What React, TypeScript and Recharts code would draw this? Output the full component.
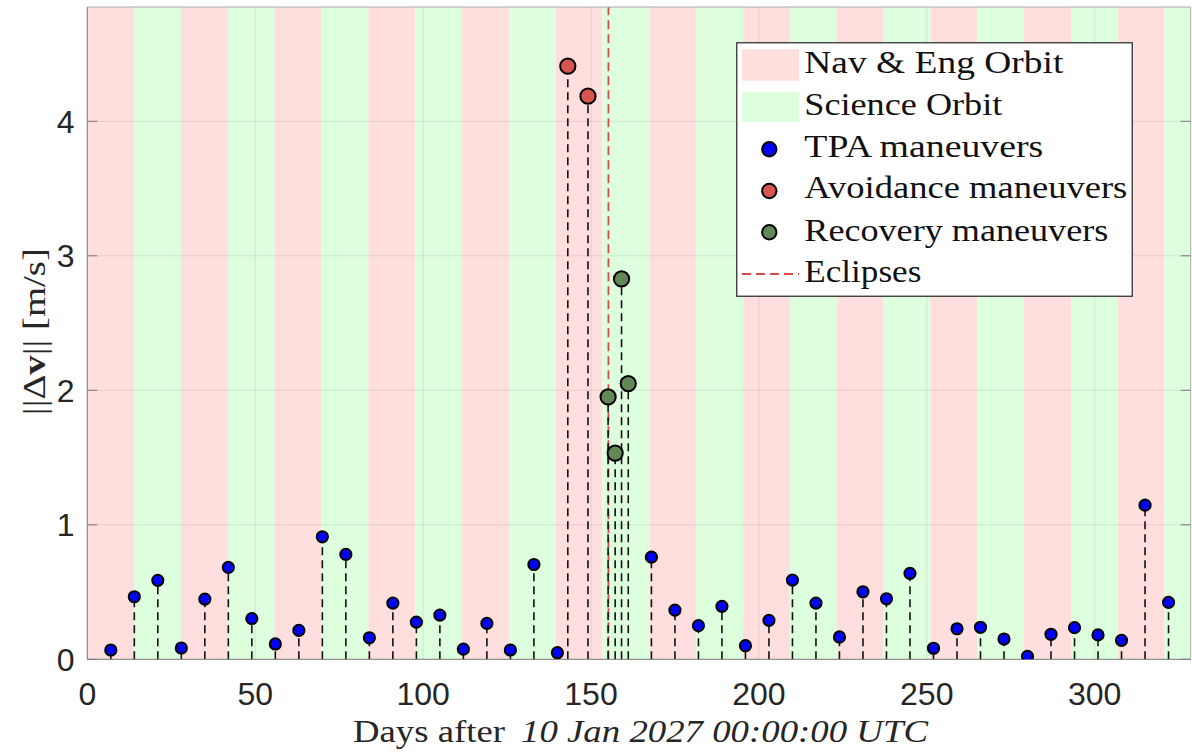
import React from 'react';
import { ComposedChart, XAxis, YAxis, Scatter, ReferenceArea, ReferenceLine, Legend } from 'recharts';

// Phase boundaries in days; phases alternate Nav & Eng / Science, starting with Nav & Eng
const phaseEdges = [
  0, 13.95, 27.9, 41.85, 55.8, 69.75, 83.7, 97.65, 111.6, 125.55, 139.5, 153.45, 167.4,
  181.35, 195.3, 209.25, 223.2, 237.15, 251.1, 265.05, 279, 292.95, 306.9, 320.85, 328.6,
];

// Trajectory-plan (TPA) maneuvers
const tpaDays = [
  7, 14, 21, 28, 35, 42, 49, 56, 63, 70, 77, 84, 91, 98, 105, 112, 119, 126, 133, 140,
  168, 175, 182, 189, 196, 203, 210, 217, 224, 231, 238, 245, 252, 259, 266, 273, 280,
  287, 294, 301, 308, 315, 322,
];
const tpaDv = [
  0.069, 0.465, 0.587, 0.084, 0.448, 0.683, 0.302, 0.114, 0.215, 0.911, 0.78, 0.16, 0.418,
  0.277, 0.329, 0.076, 0.267, 0.069, 0.705, 0.049, 0.76, 0.366, 0.25, 0.394, 0.101, 0.29,
  0.589, 0.418, 0.166, 0.502, 0.45, 0.639, 0.082, 0.227, 0.238, 0.151, 0.022, 0.186,
  0.235, 0.181, 0.141, 1.146, 0.423,
];

// Collision avoidance maneuvers
const avoidDays = [143.1, 149.1];
const avoidDv = [4.41, 4.187];

// Recovery maneuvers after the avoidance sequence
const recoveryDays = [155.1, 157.2, 159.1, 161.1];
const recoveryDv = [1.951, 1.533, 2.828, 2.05];

const eclipseDays = [155.2];

const xTicks = [0, 50, 100, 150, 200, 250, 300];
const yTicks = [0, 1, 2, 3, 4];
const X_MAX = 328.6;
const Y_MAX = 4.85;

const NAV_FILL = '#ffdede';
const SCI_FILL = '#deffde';
const TPA_FILL = '#0000ff';
const AVOID_FILL = '#d9534f';
const RECOVERY_FILL = '#628856';
const ECLIPSE_COLOR = '#e04848';
const SERIF = '"Liberation Serif", "Times New Roman", serif';
const SANS = '"Liberation Sans", Arial, sans-serif';

const toPoints = (days: number[], dv: number[]) => days.map((day, i) => ({ day, dv: dv[i] }));
const tpa = toPoints(tpaDays, tpaDv);
const avoidance = toPoints(avoidDays, avoidDv);
const recovery = toPoints(recoveryDays, recoveryDv);
const allPoints = [...tpa, ...avoidance, ...recovery];

const phases = phaseEdges.slice(0, -1).map((start, i) => ({
  x1: start,
  x2: phaseEdges[i + 1],
  fill: i % 2 === 0 ? NAV_FILL : SCI_FILL,
}));

const marker = (fill: string, r: number) => (props: any) => (
  <circle cx={props.cx} cy={props.cy} r={r} fill={fill} stroke="#000" strokeWidth={2} />
);

const legendRows = [
  { label: 'Nav & Eng Orbit', width: 259 },
  { label: 'Science Orbit', width: 198 },
  { label: 'TPA maneuvers', width: 239 },
  { label: 'Avoidance maneuvers', width: 323 },
  { label: 'Recovery maneuvers', width: 304 },
  { label: 'Eclipses', width: 117 },
];

function LegendBox() {
  const rowY = [30.7, 73, 114.7, 156.3, 198.7, 239.7];
  return (
    <svg width={397} height={255} style={{ display: 'block' }}>
      <rect x={0.75} y={0.75} width={395.5} height={253.5} fill="#fff" stroke="#333" strokeWidth={1.3} />
      <rect x={6} y={7.3} width={57} height={31.4} fill={NAV_FILL} />
      <rect x={6} y={49.7} width={57} height={30.3} fill={SCI_FILL} />
      <circle cx={33.3} cy={107.3} r={7.2} fill={TPA_FILL} stroke="#000" strokeWidth={2} />
      <circle cx={33.3} cy={149} r={7.2} fill={AVOID_FILL} stroke="#000" strokeWidth={2} />
      <circle cx={33.3} cy={190.3} r={7.2} fill={RECOVERY_FILL} stroke="#000" strokeWidth={2} />
      <line x1={6} x2={63} y1={232} y2={232} stroke={ECLIPSE_COLOR} strokeWidth={1.8} strokeDasharray="9 5" />
      {legendRows.map((row, i) => (
        <text
          key={row.label}
          x={68.3}
          y={rowY[i]}
          fontFamily={SERIF}
          fontSize={31}
          fill="#111"
          textLength={row.width}
          lengthAdjust="spacingAndGlyphs"
        >
          {row.label}
        </text>
      ))}
    </svg>
  );
}

const renderXTitle = (props: any) => {
  const { x, y, width } = props.viewBox;
  const cx = x + width / 2;
  const base = y + 82.7;
  return (
    <g>
      <text x={cx - 286} y={base} fontFamily={SERIF} fontSize={31} fill="#262626" textLength={152} lengthAdjust="spacingAndGlyphs">
        Days after
      </text>
      <text
        x={cx - 118}
        y={base}
        fontFamily={SERIF}
        fontSize={31}
        fontStyle="italic"
        fill="#262626"
        textLength={407}
        lengthAdjust="spacingAndGlyphs"
      >
        10 Jan 2027 00:00:00 UTC
      </text>
    </g>
  );
};

const renderYTitle = (props: any) => {
  const { y, height } = props.viewBox;
  const cy = y + height / 2 - 1.5;
  return (
    <text
      transform={`translate(45, ${cy}) rotate(-90)`}
      textAnchor="middle"
      fontFamily={SERIF}
      fontSize={31}
      fill="#262626"
      textLength={167}
      lengthAdjust="spacingAndGlyphs"
    >
      ||Δ<tspan fontWeight="bold">v</tspan>|| [m/s]
    </text>
  );
};

const tickFont = { fontFamily: SANS, fontSize: 32, fill: '#262626' };
const noLabel = () => '';

export default function App() {
  return (
    <div style={{ position: 'absolute', left: 0, top: 0, background: '#fff' }}>
      <ComposedChart width={1192} height={752} margin={{ top: 7, right: 1.3, left: 0, bottom: 32.7 }}>
        {phases.map((p) => (
          <ReferenceArea key={p.x1} x1={p.x1} x2={p.x2} fill={p.fill} fillOpacity={1} stroke="none" />
        ))}

        {xTicks.slice(1).map((t) => (
          <ReferenceLine key={`gx${t}`} x={t} stroke="#262626" strokeOpacity={0.1} strokeWidth={1} />
        ))}
        {yTicks.slice(1).map((t) => (
          <ReferenceLine key={`gy${t}`} y={t} stroke="#262626" strokeOpacity={0.1} strokeWidth={1} />
        ))}

        <XAxis
          dataKey="day"
          type="number"
          domain={[0, X_MAX]}
          ticks={xTicks}
          allowDataOverflow
          height={60}
          tickLine={false}
          tickSize={6}
          tickMargin={16.7}
          axisLine={{ stroke: '#777', strokeWidth: 1 }}
          tick={tickFont}
          label={renderXTitle}
        />
        <XAxis xAxisId="bottomTicks" type="number" domain={[0, X_MAX]} ticks={xTicks} allowDataOverflow
          orientation="bottom" mirror axisLine={false} tickSize={10} tickLine={{ stroke: '#555' }} tickFormatter={noLabel} />
        <XAxis xAxisId="top" type="number" domain={[0, X_MAX]} ticks={xTicks} allowDataOverflow
          orientation="top" mirror axisLine={{ stroke: '#aaa' }} tickSize={10} tickLine={{ stroke: '#777' }} tickFormatter={noLabel} />

        <YAxis
          dataKey="dv"
          type="number"
          domain={[0, Y_MAX]}
          ticks={yTicks}
          allowDataOverflow
          width={87.3}
          tickLine={false}
          tickSize={6}
          tickMargin={6.8}
          axisLine={{ stroke: '#777', strokeWidth: 1 }}
          tick={tickFont}
          label={renderYTitle}
        />
        <YAxis yAxisId="leftTicks" type="number" domain={[0, Y_MAX]} ticks={yTicks} allowDataOverflow
          orientation="left" mirror axisLine={false} tickSize={10} tickLine={{ stroke: '#777' }} tickFormatter={noLabel} />
        <YAxis yAxisId="right" type="number" domain={[0, Y_MAX]} ticks={yTicks} allowDataOverflow
          orientation="right" mirror axisLine={{ stroke: '#aaa' }} tickSize={10} tickLine={{ stroke: '#777' }} tickFormatter={noLabel} />

        {eclipseDays.map((d) => (
          <ReferenceLine key={`ecl${d}`} x={d} stroke={ECLIPSE_COLOR} strokeWidth={1.8} strokeDasharray="9 5" />
        ))}

        {allPoints.map((p) => (
          <ReferenceLine
            key={`stem${p.day}`}
            segment={[{ x: p.day, y: 0 }, { x: p.day, y: p.dv }]}
            stroke="#111"
            strokeWidth={1.6}
            strokeDasharray="8 5"
          />
        ))}

        <Scatter name="TPA maneuvers" data={tpa} dataKey="dv" shape={marker(TPA_FILL, 5.6)} isAnimationActive={false} />
        <Scatter name="Avoidance maneuvers" data={avoidance} dataKey="dv" shape={marker(AVOID_FILL, 7.6)} isAnimationActive={false} />
        <Scatter name="Recovery maneuvers" data={recovery} dataKey="dv" shape={marker(RECOVERY_FILL, 7.6)} isAnimationActive={false} />

        <Legend
          layout="vertical"
          align="center"
          verticalAlign="middle"
          width={397}
          height={255}
          wrapperStyle={{ left: 736, top: 42, width: 397, height: 255 }}
          content={() => <LegendBox />}
        />
      </ComposedChart>
    </div>
  );
}
